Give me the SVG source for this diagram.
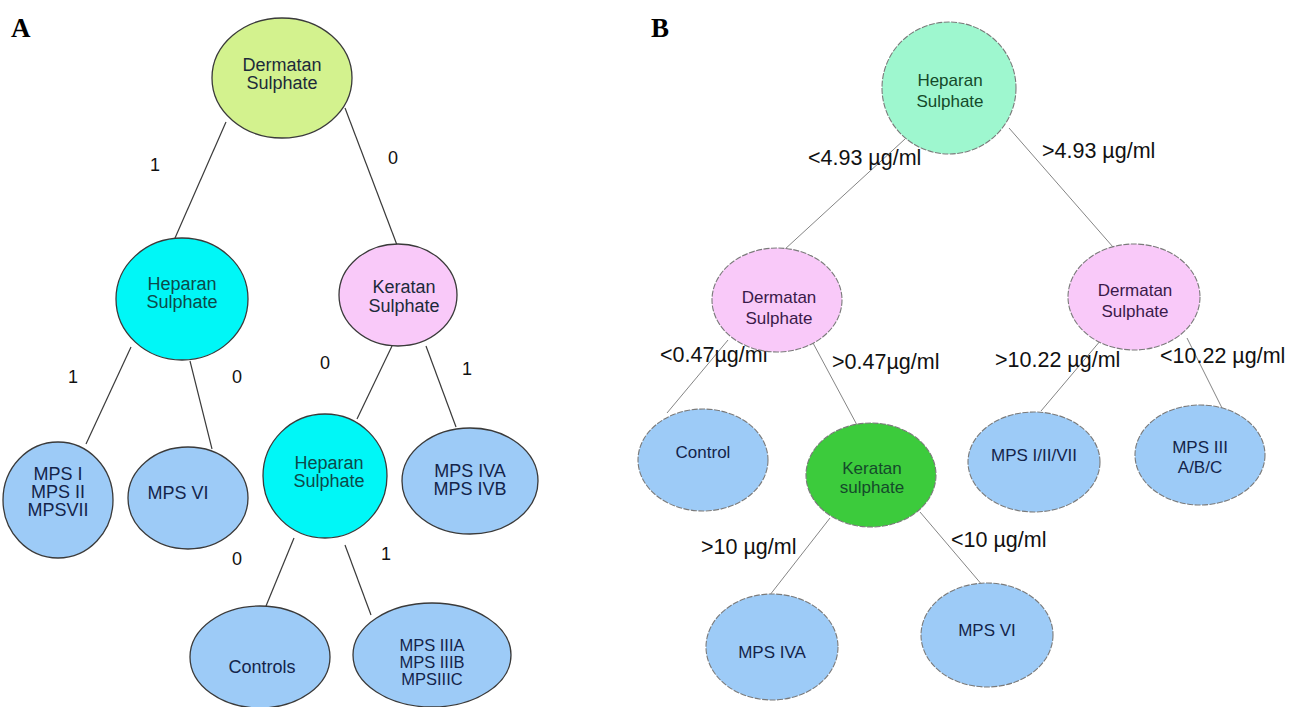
<svg xmlns="http://www.w3.org/2000/svg" width="1290" height="707" viewBox="0 0 1290 707">
<style>
.bg{fill:#ffffff}
.panel{font-family:"Liberation Serif","Times New Roman",serif;font-weight:bold;font-size:27px;fill:#000}
.na{stroke:#3a3a3a;stroke-width:1.3}
.nb{stroke:#7a7a7a;stroke-width:1.1;stroke-dasharray:6 1.5}
.t{font-family:"Liberation Sans",Arial,sans-serif;text-anchor:middle}
.ta{font-size:18px}
.ts{font-size:16.5px}
.tb{font-size:17px}
.lab{font-family:"Liberation Sans",Arial,sans-serif;font-size:18px;fill:#111}
.labb{font-family:"Liberation Sans",Arial,sans-serif;font-size:21.5px;fill:#111}
.ea{stroke:#3a3a3a;stroke-width:1.2;fill:none}
.eb{stroke:#858585;stroke-width:1;fill:none}
.lime{fill:#d3f28e}
.cyan{fill:#00f7f7}
.pink{fill:#f9c9f9}
.blue{fill:#9dcbf7}
.mint{fill:#9ef7cf}
.green{fill:#3ccb3c}
.dk{fill:#1c2a3a}
.navy{fill:#14244a}
.teal{fill:#0d4a4a}
.dgreen{fill:#144a2a}
.purp{fill:#3a1a4a}
</style>
<rect class="bg" x="0" y="0" width="1290" height="707"/>
<text class="panel" x="11" y="37">A</text>
<text class="panel" x="651" y="37">B</text>

<g id="connectors">
  <line class="ea" x1="226" y1="122" x2="175" y2="238"/>
  <line class="ea" x1="345" y1="108" x2="397" y2="245"/>
  <line class="ea" x1="131" y1="347" x2="86" y2="444"/>
  <line class="ea" x1="190" y1="361" x2="212" y2="449"/>
  <line class="ea" x1="392" y1="346" x2="357" y2="419"/>
  <line class="ea" x1="426" y1="346" x2="456" y2="427"/>
  <line class="ea" x1="294" y1="538" x2="266" y2="606"/>
  <line class="ea" x1="345" y1="545" x2="371" y2="615"/>
  <line class="eb" x1="905" y1="139" x2="784" y2="250"/>
  <line class="eb" x1="1009" y1="128" x2="1113" y2="247"/>
  <line class="eb" x1="728" y1="340" x2="667" y2="413"/>
  <line class="eb" x1="813" y1="343" x2="857" y2="425"/>
  <line class="eb" x1="1101" y1="340" x2="1041" y2="411"/>
  <line class="eb" x1="1187" y1="338" x2="1222" y2="408"/>
  <line class="eb" x1="830" y1="518" x2="766" y2="600"/>
  <line class="eb" x1="920" y1="512" x2="983" y2="586"/>
  <text class="lab" x="150" y="171">1</text>
  <text class="lab" x="388" y="164">0</text>
  <text class="lab" x="68" y="383">1</text>
  <text class="lab" x="232" y="383">0</text>
  <text class="lab" x="320" y="369">0</text>
  <text class="lab" x="462" y="375">1</text>
  <text class="lab" x="232" y="565">0</text>
  <text class="lab" x="381" y="560">1</text>
  <text class="labb" x="808" y="165">&lt;4.93 µg/ml</text>
  <text class="labb" x="1042" y="158">&gt;4.93 µg/ml</text>
  <text class="labb" x="660" y="362">&lt;0.47µg/ml</text>
  <text class="labb" x="832" y="369">&gt;0.47µg/ml</text>
  <text class="labb" x="995" y="367">&gt;10.22 µg/ml</text>
  <text class="labb" x="1160" y="363">&lt;10.22 µg/ml</text>
  <text class="labb" x="701" y="554">&gt;10 µg/ml</text>
  <text class="labb" x="951" y="547">&lt;10 µg/ml</text>
</g>

<g id="a-dermatan">
  <ellipse class="na lime" cx="282" cy="78" rx="70" ry="60"/>
  <text class="t ta dk" x="282" y="71">Dermatan</text>
  <text class="t ta dk" x="282" y="89">Sulphate</text>
</g>
<g id="a-heparan1">
  <ellipse class="na cyan" cx="182" cy="299" rx="66" ry="61"/>
  <text class="t ta teal" x="182" y="290">Heparan</text>
  <text class="t ta teal" x="182" y="308">Sulphate</text>
</g>
<g id="a-keratan">
  <ellipse class="na pink" cx="398" cy="295" rx="59" ry="51"/>
  <text class="t ta dk" x="404" y="293">Keratan</text>
  <text class="t ta dk" x="404" y="312">Sulphate</text>
</g>
<g id="a-mps1">
  <ellipse class="na blue" cx="58" cy="500" rx="55" ry="58"/>
  <text class="t ta navy" x="58" y="480">MPS I</text>
  <text class="t ta navy" x="58" y="498">MPS II</text>
  <text class="t ta navy" x="58" y="516">MPSVII</text>
</g>
<g id="a-mps6">
  <ellipse class="na blue" cx="188" cy="498" rx="60" ry="51"/>
  <text class="t ta navy" x="178" y="499">MPS VI</text>
</g>
<g id="a-heparan2">
  <ellipse class="na cyan" cx="325" cy="476" rx="62" ry="62"/>
  <text class="t ta teal" x="329" y="469">Heparan</text>
  <text class="t ta teal" x="329" y="487">Sulphate</text>
</g>
<g id="a-mps4">
  <ellipse class="na blue" cx="470" cy="481" rx="68" ry="53"/>
  <text class="t ta navy" x="470" y="477">MPS IVA</text>
  <text class="t ta navy" x="470" y="495">MPS IVB</text>
</g>
<g id="a-controls">
  <ellipse class="na blue" cx="260" cy="657" rx="70" ry="51"/>
  <text class="t ta navy" x="262" y="673">Controls</text>
</g>
<g id="a-mps3">
  <ellipse class="na blue" cx="432" cy="655" rx="79" ry="52"/>
  <text class="t ts navy" x="432" y="651">MPS IIIA</text>
  <text class="t ts navy" x="432" y="668">MPS IIIB</text>
  <text class="t ts navy" x="432" y="685">MPSIIIC</text>
</g>

<g id="b-heparan">
  <ellipse class="nb mint" cx="949" cy="88" rx="67" ry="66"/>
  <text class="t tb dgreen" x="950" y="86">Heparan</text>
  <text class="t tb dgreen" x="950" y="107">Sulphate</text>
</g>
<g id="b-dermatan-left">
  <ellipse class="nb pink" cx="777" cy="300" rx="65" ry="52"/>
  <text class="t tb purp" x="779" y="303">Dermatan</text>
  <text class="t tb purp" x="779" y="324">Sulphate</text>
</g>
<g id="b-dermatan-right">
  <ellipse class="nb pink" cx="1134" cy="297" rx="66" ry="53"/>
  <text class="t tb purp" x="1135" y="296">Dermatan</text>
  <text class="t tb purp" x="1135" y="317">Sulphate</text>
</g>
<g id="b-control">
  <ellipse class="nb blue" cx="703" cy="460" rx="65" ry="51"/>
  <text class="t tb navy" x="703" y="458">Control</text>
</g>
<g id="b-keratan">
  <ellipse class="nb green" cx="871" cy="475" rx="65" ry="52"/>
  <text class="t tb dgreen" x="872" y="474">Keratan</text>
  <text class="t tb dgreen" x="872" y="493">sulphate</text>
</g>
<g id="b-mps127">
  <ellipse class="nb blue" cx="1034" cy="462" rx="66" ry="50"/>
  <text class="t tb navy" x="1034" y="461">MPS I/II/VII</text>
</g>
<g id="b-mps3">
  <ellipse class="nb blue" cx="1200" cy="455" rx="65" ry="50"/>
  <text class="t tb navy" x="1200" y="453">MPS III</text>
  <text class="t tb navy" x="1200" y="473">A/B/C</text>
</g>
<g id="b-mps4a">
  <ellipse class="nb blue" cx="772" cy="647" rx="66" ry="53"/>
  <text class="t tb navy" x="772" y="658">MPS IVA</text>
</g>
<g id="b-mps6">
  <ellipse class="nb blue" cx="987" cy="635" rx="66" ry="52"/>
  <text class="t tb navy" x="987" y="636">MPS VI</text>
</g>
</svg>
